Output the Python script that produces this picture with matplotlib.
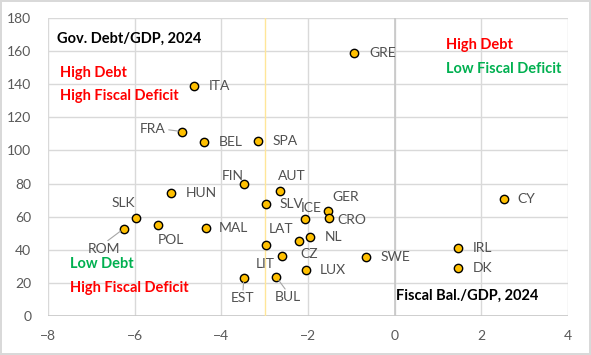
import matplotlib
matplotlib.use('Agg')
import matplotlib.pyplot as plt
import numpy as np

# Fiscal balance (% GDP) and government debt (% GDP), 2024
countries = ['GRE', 'ITA', 'FRA', 'BEL', 'SPA', 'FIN', 'AUT', 'HUN', 'SLV', 'SLK',
             'ROM', 'POL', 'MAL', 'ICE', 'GER', 'CRO', 'NL', 'LAT', 'CZ', 'LIT',
             'LUX', 'SWE', 'EST', 'BUL', 'CY', 'IRL', 'DK']
fiscal_bal = [-0.94, -4.62, -4.9, -4.39, -3.15, -3.48, -2.65, -5.17, -2.98, -5.98,
              -6.25, -5.46, -4.36, -2.08, -1.53, -1.52, -1.96, -2.6, -2.21, -2.98,
              -2.05, -0.67, -3.48, -2.73, 2.52, 1.46, 1.46]
gov_debt = [158.8, 139.0, 111.4, 105.1, 105.9, 79.9, 75.3, 74.3, 67.6, 59.1,
            52.7, 54.7, 53.1, 58.3, 63.6, 59.3, 47.5, 36.0, 45.0, 43.0,
            27.8, 35.5, 22.8, 23.4, 70.6, 40.8, 28.9]

# label placement (offset in pixels from the point, alignment, leader line)
label_pos = {
    'GRE': (15, 0, 'left', False), 'ITA': (14, 0, 'left', False),
    'FRA': (-17, 3, 'right', True), 'BEL': (14, 0, 'left', False),
    'SPA': (14, 0, 'left', False), 'FIN': (-11, 8, 'center', False),
    'AUT': (12, 15, 'center', False), 'HUN': (15, 0, 'left', False),
    'SLV': (14, 0, 'left', False), 'SLK': (-12, 15, 'center', False),
    'ROM': (-20, -20, 'center', True), 'POL': (13, -15, 'center', False),
    'MAL': (13, 0, 'left', False), 'ICE': (7, 11, 'center', False),
    'GER': (17, 14, 'center', False), 'CRO': (9, -2, 'left', False),
    'NL': (15, 0, 'left', False), 'LAT': (-1, 27, 'center', False),
    'CZ': (10, -13, 'center', False), 'LIT': (0, -19, 'center', False),
    'LUX': (14, 0, 'left', False), 'SWE': (15, 0, 'left', False),
    'EST': (-1, -20, 'center', True), 'BUL': (11, -20, 'center', True),
    'CY': (14, 0, 'left', False), 'IRL': (15, 0, 'left', False),
    'DK': (15, 0, 'left', False),
}

plt.rcParams['font.family'] = ['Lato', 'DejaVu Sans']

fig = plt.figure(figsize=(5.91, 3.55), dpi=100, edgecolor='#D9D9D9', linewidth=1.5)
ax = fig.add_axes([0.0812, 0.1107, 0.8798, 0.8378])

ax.set_xlim(-8, 4)
ax.set_ylim(0, 180)
ax.set_xticks(np.arange(-8, 5, 2))
ax.set_yticks(np.arange(0, 181, 20))
ax.grid(True, color='#D9D9D9', linewidth=1)
ax.set_axisbelow(True)
for s in ax.spines.values():
    s.set_visible(False)
ax.tick_params(length=0, labelsize=10, labelcolor='#595959')
ax.tick_params(axis='y', pad=12)
ax.tick_params(axis='x', pad=10)

# zero axis lines and the -3% deficit line
ax.axvline(0, color='#C8C8C8', linewidth=1.2, zorder=1)
ax.axhline(0, color='#C8C8C8', linewidth=1.2, zorder=1)
ax.axvline(-3, color='#FFE699', linewidth=1, zorder=1)

ax.scatter(fiscal_bal, gov_debt, s=36, color='#FFC000', edgecolor='black',
           linewidth=1, zorder=3)

for c, xv, yv in zip(countries, fiscal_bal, gov_debt):
    dx, dy, ha, lead = label_pos[c]
    ax.annotate(c, (xv, yv), xytext=(dx, dy), textcoords='offset pixels',
                ha=ha, va='center', fontsize=10, color='#505050', zorder=4)
    if lead:
        ax.annotate('', (xv, yv), xytext=(dx * 0.8, dy * 0.6), textcoords='offset pixels',
                    arrowprops=dict(arrowstyle='-', color='#A6A6A6', lw=0.8,
                                    shrinkA=0, shrinkB=3))

red = '#FF0000'
green = '#00B050'
ax.text(0.018, 0.93, 'Gov. Debt/GDP, 2024', transform=ax.transAxes, fontsize=10.5,
        fontweight='bold', color='black', va='center')
ax.text(0.023, 0.816, 'High Debt', transform=ax.transAxes, fontsize=10.5,
        fontweight='bold', color=red, va='center')
ax.text(0.023, 0.74, 'High Fiscal Deficit', transform=ax.transAxes, fontsize=10.5,
        fontweight='bold', color=red, va='center')
ax.text(0.765, 0.91, 'High Debt', transform=ax.transAxes, fontsize=10.5,
        fontweight='bold', color=red, va='center')
ax.text(0.765, 0.828, 'Low Fiscal Deficit', transform=ax.transAxes, fontsize=10.5,
        fontweight='bold', color=green, va='center')
ax.text(0.042, 0.173, 'Low Debt', transform=ax.transAxes, fontsize=10.5,
        fontweight='bold', color=green, va='center')
ax.text(0.042, 0.092, 'High Fiscal Deficit', transform=ax.transAxes, fontsize=10.5,
        fontweight='bold', color=red, va='center')
ax.text(0.67, 0.066, 'Fiscal Bal./GDP, 2024', transform=ax.transAxes, fontsize=10.5,
        fontweight='bold', color='black', va='center')

fig.savefig('out.png', dpi=100)
